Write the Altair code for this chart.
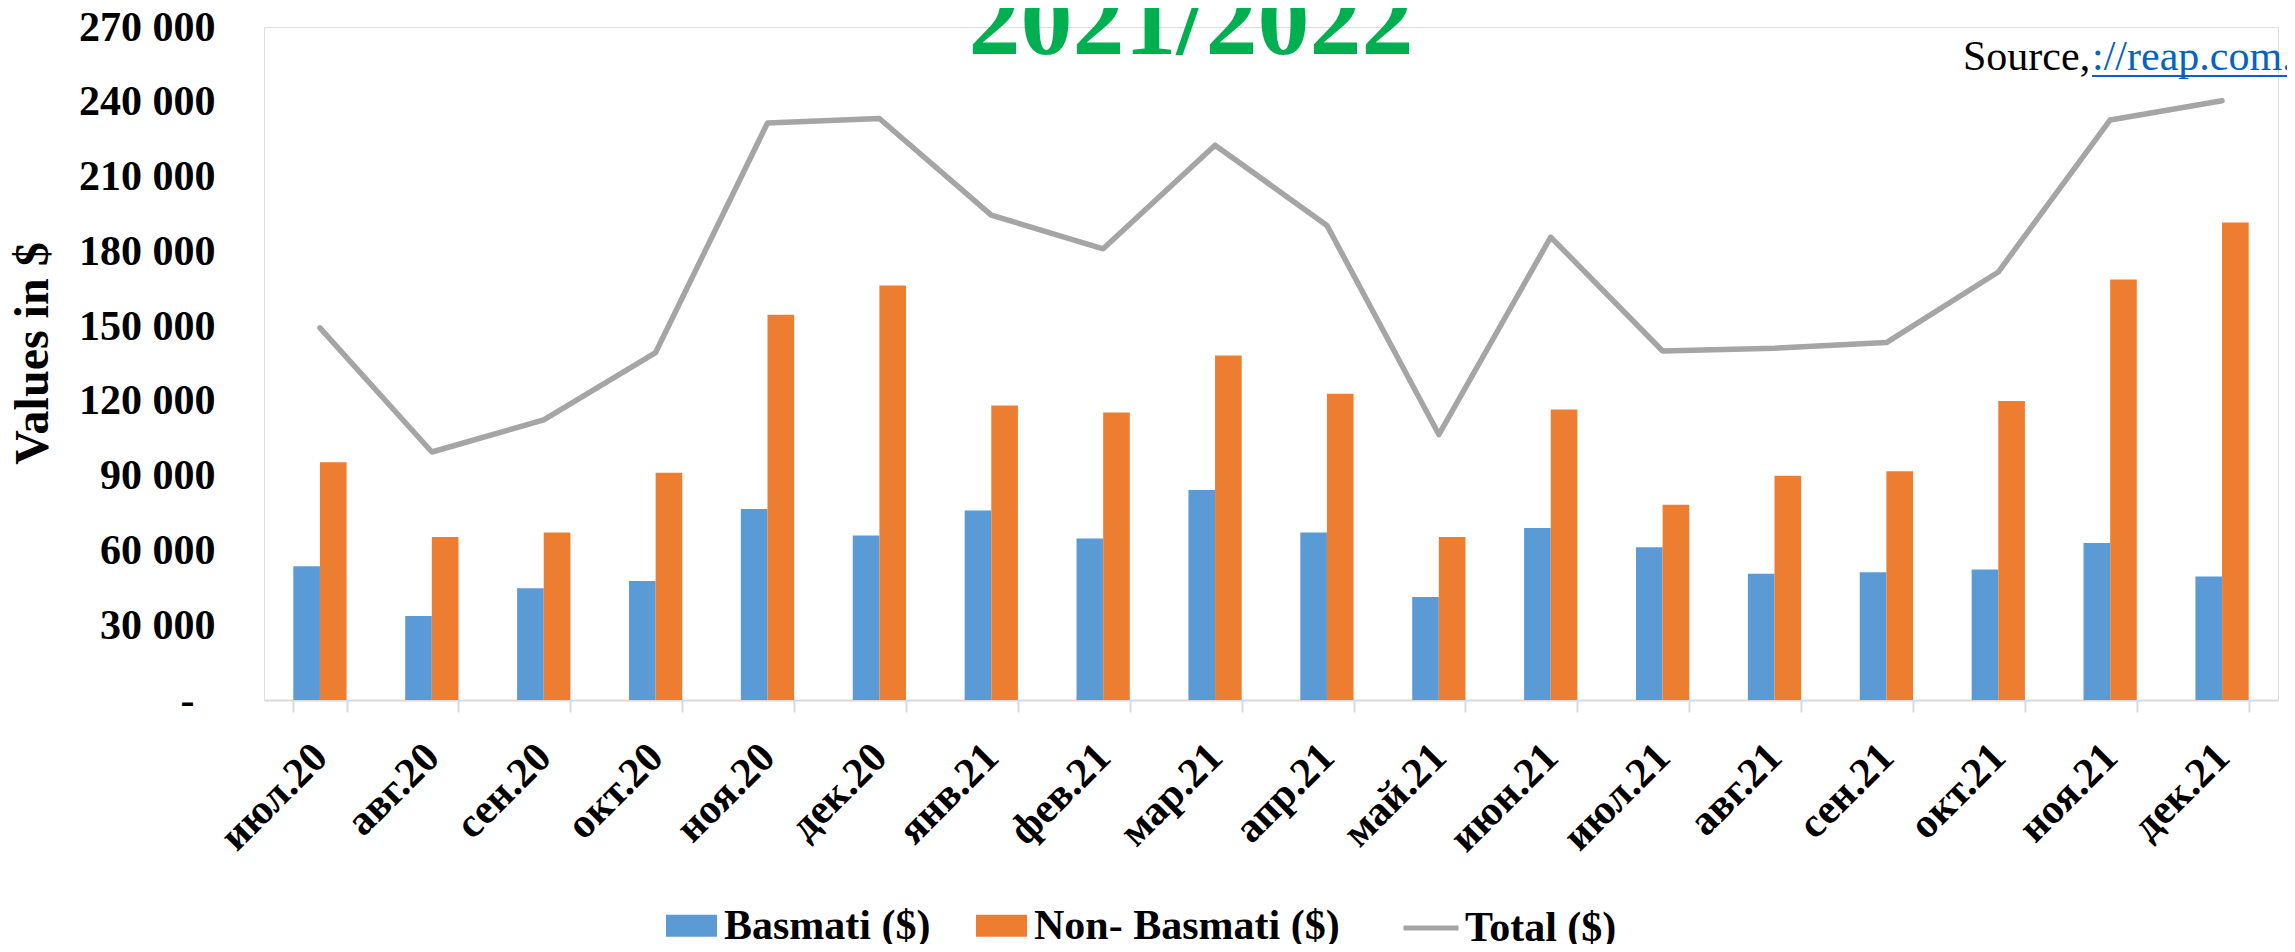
import altair as alt
import pandas as pd

# ---------------- data ----------------
months = ["июл.20", "авг.20", "сен.20", "окт.20", "ноя.20", "дек.20",
          "янв.21", "фев.21", "мар.21", "апр.21", "май.21", "июн.21",
          "июл.21", "авг.21", "сен.21", "окт.21", "ноя.21", "дек.21"]
basmati = [53700, 33700, 44800, 47700, 76600, 66000,
           76000, 64800, 84200, 67200, 41300, 69000,
           61300, 50700, 51300, 52400, 63000, 49500]
non_basmati = [95400, 65400, 67200, 91200, 154600, 166300,
               118200, 115300, 138200, 122900, 65400, 116500,
               78300, 90000, 91800, 120000, 168700, 191600]
total = [149300, 99500, 112400, 139400, 231500, 233300,
         194500, 181000, 222600, 190400, 106500, 185700,
         140000, 141100, 143400, 171700, 232700, 240400]
bar_series = ["Basmati ($)", "Non- Basmati ($)"]
line_series = ["Total ($)"]
bar_colors = ["#5B9BD5", "#ED7D31"]
line_colors = ["#A5A5A5"]
y_ticks = [0, 30000, 60000, 90000, 120000, 150000, 180000, 210000, 240000, 270000]
title_text = ["2021/2022"]
source_text = ["Source,"]
link_text = ["://reap.com.pk"]

FONT = "Liberation Serif"

bars_df = pd.DataFrame({
    "month": months * 2,
    "series": [bar_series[0]] * len(months) + [bar_series[1]] * len(months),
    "value": basmati + non_basmati,
})
line_df = pd.DataFrame({"month": months, "series": line_series * len(months), "value": total})

x_scale = alt.Scale(paddingInner=0.524, paddingOuter=0.262)
x_axis = alt.Axis(
    title=None, labelAngle=-45, labelAlign="right", labelBaseline="middle",
    labelFont=FONT, labelFontSize=42, labelFontWeight="bold", labelColor="black",
    labelPadding=38, domainColor="#D9D9D9", domainWidth=2,
    tickColor="#D9D9D9", tickWidth=2, tickSize=12, tickBand="extent",
    grid=False, labelLimit=0,
)
y_scale = alt.Scale(domain=[y_ticks[0], y_ticks[-1]], nice=False)
y_axis = alt.Axis(
    values=y_ticks, domain=False, ticks=False, grid=False,
    labelExpr="datum.value == 0 ? '-' : replace(format(datum.value, ','), ',', ' ')",
    labelFont=FONT, labelFontSize=42, labelFontWeight="bold", labelColor="black",
    labelPadding={"condition": {"test": "datum.value == 0", "value": 70}, "value": 49},
    title="Values in $", titleFont=FONT, titleFontSize=48, titleFontWeight="bold",
    titleColor="black", titleAngle=270, titleAlign="center", titleBaseline="middle",
    titleX=-231, titleY=326,
)

bars = alt.Chart(bars_df).mark_bar().encode(
    x=alt.X("month:N", sort=months, scale=x_scale, axis=x_axis),
    xOffset=alt.XOffset("series:N", sort=bar_series, scale=alt.Scale(paddingInner=0, paddingOuter=0)),
    y=alt.Y("value:Q", scale=y_scale, axis=y_axis),
    color=alt.Color(
        "series:N", sort=bar_series,
        scale=alt.Scale(domain=bar_series, range=bar_colors),
        legend=alt.Legend(
            title=None, orient="none", legendX=402, legendY=873, direction="horizontal",
            columns=2, columnPadding=45, padding=0,
            symbolType="M-1,-0.43L1,-0.43L1,0.43L-1,0.43Z", symbolSize=2601,
            symbolStrokeWidth=0, symbolOpacity=1,
            labelFont=FONT, labelFontSize=42, labelFontWeight="bold", labelColor="black",
            labelOffset=7, labelLimit=1000,
        ),
    ),
)

line = alt.Chart(line_df).mark_line(strokeWidth=5.5, strokeCap="round", strokeJoin="round").encode(
    x=alt.X("month:N", sort=months, scale=x_scale, axis=x_axis),
    y=alt.Y("value:Q", scale=y_scale, axis=y_axis),
    color=alt.Color(
        "series:N",
        scale=alt.Scale(domain=line_series, range=line_colors),
        legend=alt.Legend(
            title=None, orient="none", legendX=1137, legendY=871, direction="horizontal",
            padding=0, symbolType="stroke", symbolSize=3025, symbolStrokeWidth=5,
            labelFont=FONT, labelFontSize=42, labelFontWeight="bold", labelColor="black",
            labelOffset=4, labelLimit=1000,
        ),
    ),
)

title = alt.Chart(pd.DataFrame({"t": title_text})).mark_text(
    font=FONT, fontSize=104, fontWeight="bold", color="#00B050",
    align="center", baseline="alphabetic",
).encode(text="t:N", x=alt.value(927), y=alt.value(27))

source = alt.Chart(pd.DataFrame({"t": source_text})).mark_text(
    font=FONT, fontSize=42, color="black", align="left", baseline="alphabetic",
).encode(text="t:N", x=alt.value(1699), y=alt.value(43))

link = alt.Chart(pd.DataFrame({"t": link_text})).mark_text(
    font=FONT, fontSize=42, color="#0563C1", align="left", baseline="alphabetic",
).encode(text="t:N", x=alt.value(1828), y=alt.value(43))

underline = alt.Chart(pd.DataFrame({"t": link_text})).mark_rule(
    color="#0563C1", strokeWidth=2
).encode(x=alt.value(1828), x2=alt.value(2040), y=alt.value(49))

chart = alt.layer(bars, line, title, source, link, underline).resolve_scale(
    color="independent"
).properties(
    width=2014, height=673,
    autosize=alt.AutoSizeParams(type="none"),
    padding={"left": 256, "top": 19, "right": 9, "bottom": 244},
).configure_view(stroke=None).configure(background="white")

chart.save("out.html", embed_options={"renderer": "svg", "actions": False})
